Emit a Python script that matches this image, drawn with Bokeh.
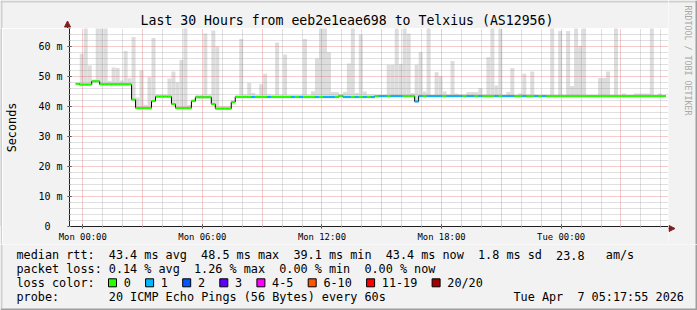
import math
import numpy as np
from bokeh.plotting import figure
from bokeh.layouts import column, row
from bokeh.models import FixedTicker, ColumnDataSource, Range1d
from bokeh.core.properties import value
from bokeh.embed import file_html
from bokeh.resources import INLINE

# ---------------- data ----------------
# time axis: hours relative to Mon 00:00, one consolidated RRD step = 12 min
step_h = 0.2
t_first = -0.35

median_ms = [
    47.6, 47.3, 47.3, 47.3, 48.4, 48.4, 47.4, 47.4, 47.4, 47.4,
    47.4, 47.4, 47.4, 47.4, 42.3, 39.5, 39.5, 39.5, 39.5, 41.8,
    43.3, 43.3, 43.3, 43.3, 40.8, 39.5, 39.5, 39.5, 39.5, 41.8,
    43.1, 43.1, 43.1, 43.1, 40.8, 39.3, 39.3, 39.3, 39.3, 41.5,
    43.2, 43.2, 43.2, 43.2, 43.2, 43.2, 43.2, 43.2, 43.2, 43.2,
    43.2, 43.2, 43.2, 43.2, 43.2, 43.2, 43.2, 43.2, 43.2, 43.2,
    43.2, 43.2, 43.2, 43.2, 43.2, 43.2, 43.6, 43.2, 43.2, 43.2,
    43.2, 43.2, 43.2, 43.2, 43.2, 43.5, 43.5, 43.5, 43.5, 43.5,
    43.5, 43.5, 43.5, 43.5, 43.5, 41.7, 43.5, 43.5, 43.5, 43.5,
    43.5, 43.5, 43.5, 43.5, 43.5, 43.5, 43.5, 43.5, 43.5, 43.5,
    43.5, 43.5, 43.5, 43.5, 43.5, 43.5, 43.5, 43.5, 43.5, 43.5,
    43.5, 43.5, 43.5, 43.5, 43.5, 43.5, 43.5, 43.5, 43.5, 43.5,
    43.5, 43.5, 43.5, 43.5, 43.5, 43.5, 43.5, 43.5, 43.5, 43.5,
    43.5, 43.5, 43.5, 43.5, 43.5, 43.5, 43.5, 43.5, 43.5, 43.5,
    43.5, 43.5, 43.5, 43.5, 43.5, 43.5, 43.5, 43.5,
]

smoke_top_ms = [
    47.8, 57.6, 67.0, 53.7, 49.0, 67.0, 67.0, 67.0, 48.5, 53.0,
    52.8, 48.7, 58.5, 49.4, 63.2, 43.0, 52.0, 40.5, 49.8, 62.8,
    44.0, 44.0, 44.0, 49.3, 51.7, 48.1, 55.5, 67.0, 40.5, 42.5,
    43.8, 43.8, 64.3, 44.0, 65.3, 60.0, 40.0, 40.0, 40.0, 42.0,
    43.8, 62.5, 44.0, 47.8, 44.5, 43.8, 47.4, 50.9, 44.0, 43.8,
    61.3, 43.8, 57.3, 43.8, 43.8, 43.8, 43.8, 62.5, 43.8, 45.1,
    56.0, 67.0, 67.0, 58.1, 44.8, 44.8, 44.0, 44.8, 54.3, 67.0,
    44.5, 64.0, 45.0, 44.0, 44.0, 43.8, 43.8, 43.8, 53.9, 53.9,
    67.0, 54.2, 67.0, 64.3, 44.5, 53.9, 58.2, 45.0, 67.0, 43.8,
    51.4, 50.2, 45.0, 44.0, 55.2, 44.3, 44.0, 44.0, 44.8, 44.8,
    44.8, 46.2, 44.0, 56.4, 67.0, 47.0, 67.0, 43.8, 44.8, 52.8,
    43.8, 44.3, 50.9, 44.0, 51.7, 43.8, 43.8, 43.8, 43.8, 67.0,
    43.8, 65.2, 43.8, 65.2, 46.8, 67.0, 60.2, 67.0, 43.8, 43.8,
    43.8, 49.5, 49.5, 51.7, 43.8, 67.0, 43.8, 44.3, 43.8, 43.8,
    44.3, 44.3, 44.3, 44.3, 67.0, 43.8, 44.3, 43.8,
]

loss_pings = [
    0, 0, 0, 0, 0, 0, 0, 0, 0, 0,
    0, 0, 0, 0, 0, 0, 0, 0, 0, 0,
    0, 0, 0, 0, 0, 0, 0, 0, 0, 0,
    0, 0, 0, 0, 0, 0, 0, 0, 0, 0,
    0, 0, 0, 0, 1, 0, 0, 0, 1, 0,
    0, 0, 0, 0, 1, 0, 1, 0, 0, 0,
    1, 0, 1, 1, 1, 0, 0, 1, 1, 0,
    1, 0, 1, 0, 1, 0, 1, 1, 0, 1,
    1, 1, 0, 0, 0, 1, 1, 0, 1, 1,
    1, 1, 0, 1, 1, 1, 1, 0, 1, 1,
    0, 1, 0, 0, 0, 1, 0, 1, 1, 1,
    0, 0, 1, 0, 0, 1, 0, 1, 0, 0,
    0, 0, 0, 0, 0, 0, 0, 0, 0, 0,
    0, 0, 0, 0, 0, 0, 0, 0, 0, 0,
    0, 0, 0, 0, 0, 0, 0, 0,
]

x_tick_hours = [0, 6, 12, 18, 24]
x_tick_labels = ["Mon 00:00", "Mon 06:00", "Mon 12:00", "Mon 18:00", "Tue 00:00"]
y_tick_ms = [0, 10, 20, 30, 40, 50, 60]
y_tick_labels = ["0", "10 m", "20 m", "30 m", "40 m", "50 m", "60 m"]

loss_labels = ["0", "1", "2", "3", "4-5", "6-10", "11-19", "20/20"]
loss_colors = ["#26ff00", "#00b8ff", "#0059ff", "#5e00ff", "#ff00ff",
               "#ff5500", "#ff0000", "#a00000"]

title_text = "Last 30 Hours from eeb2e1eae698 to Telxius (AS12956)"
y_label = "Seconds"
watermark = "RRDTOOL / TOBI OETIKER"
rtt_head = "median rtt:"
rtt_stats = ["43.4 ms avg", "48.5 ms max", "39.1 ms min", "43.4 ms now",
             "1.8 ms sd", "23.8", "am/s"]
loss_head = "packet loss:"
loss_stats = ["0.14 % avg", "1.26 % max", "0.00 % min", "0.00 % now"]
color_head = "loss color:"
probe_head = "probe:"
probe_text = "20 ICMP Echo Pings (56 Bytes) every 60s"
stamp_parts = ["Tue Apr", "7 05:17:55 2026"]

# ---------------- layout constants (page pixels) ----------------
W, H = 697, 310
FL, FR, FT, FB = 67, 668, 28, 228     # plot frame edges
XB = 16                               # height of x-axis label strip
MID = FB + XB                         # top of legend strip
X0, X1 = -0.665, 29.385
Y0, Y1 = 0.0, 66.0
MONO = "DejaVu Sans Mono"
BG = "#F2F2F2"
SHADE_A = "#CFCFCF"
SHADE_B = "#9E9E9E"
ARROW = "#801F1F"
AXIS = "#1F1F1F"
CW = 7.1          # monospace advance of the legend font
LFS = "11.8px"


def panel_fig(w, h, xr, yr):
    f = figure(width=w, height=h, x_range=Range1d(*xr), y_range=Range1d(*yr),
               output_backend="svg", toolbar_location=None,
               x_axis_type=None, y_axis_type=None,
               min_border=0, min_border_left=0, min_border_right=0,
               min_border_top=0, min_border_bottom=0)
    f.outline_line_color = None
    f.background_fill_color = BG
    f.border_fill_color = BG
    return f


def strip(f, l, r, t, b, c):
    f.quad(left=[l], right=[r], top=[t], bottom=[b], fill_color=c, line_color=None)


def txt(f, xs, ys, ss, size=LFS, align="left", color="black", angle=0.0):
    f.text(x=xs, y=ys, text=ss, text_font=value(MONO), text_font_size=value(size),
           text_align=align, text_baseline="middle", text_color=color, angle=angle)


# ---------------- main plot ----------------
p = figure(width=FR - 2, height=FB - FT + XB, x_range=(X0, X1), y_range=(Y0, Y1),
           output_backend="svg", toolbar_location=None,
           min_border_left=FL - 2, min_border_right=0,
           min_border_top=0, min_border_bottom=XB)
p.background_fill_color = "white"
p.border_fill_color = BG
p.outline_line_color = None

p.xaxis.ticker = FixedTicker(ticks=x_tick_hours, minor_ticks=list(range(0, 30)))
p.xaxis.major_label_overrides = {h: l for h, l in zip(x_tick_hours, x_tick_labels)}
p.yaxis.ticker = FixedTicker(ticks=y_tick_ms, minor_ticks=list(range(0, 67, 2)))
p.yaxis.major_label_overrides = {v: (l if v != 0 else l + "\u00a0\u00a0")
                                 for v, l in zip(y_tick_ms, y_tick_labels)}
for ax in (p.xaxis, p.yaxis):
    ax.axis_line_color = AXIS
    ax.major_tick_line_color = AXIS
    ax.minor_tick_line_color = "#8F8F8F"
    ax.major_tick_out = 2
    ax.major_tick_in = 2
    ax.minor_tick_out = 1
    ax.minor_tick_in = 1
    ax.major_label_text_font = MONO
    ax.major_label_text_color = "black"
p.xaxis.major_label_text_font_size = "8.9px"
p.xaxis.major_label_standoff = 3
p.yaxis.major_label_text_font_size = "10px"
p.yaxis.major_label_standoff = 5
p.yaxis.axis_label = y_label
p.yaxis.axis_label_text_font = MONO
p.yaxis.axis_label_text_font_size = LFS
p.yaxis.axis_label_text_font_style = "normal"
p.yaxis.axis_label_text_color = "black"
p.yaxis.axis_label_standoff = 16

p.xgrid.ticker = FixedTicker(ticks=list(range(0, 30, 3)),
                             minor_ticks=[h for h in range(0, 30) if h % 3])
p.ygrid.ticker = FixedTicker(ticks=list(range(10, 61, 10)),
                             minor_ticks=[v for v in range(2, 66, 2) if v % 10])
for g in (p.xgrid, p.ygrid):
    g.grid_line_color = "#DE5050"
    g.grid_line_alpha = 0.6
    g.grid_line_dash = "1 1"
    g.minor_grid_line_color = "#8F8F8F"
    g.minor_grid_line_alpha = 0.55
    g.minor_grid_line_dash = "1 1"

n = len(median_ms)
t = t_first + step_h * np.arange(n)
med = np.array(median_ms)
top = np.array(smoke_top_ms)
src = ColumnDataSource(dict(left=t, right=t + step_h, bottom=med - 0.5, top=top,
                            med=med,
                            color=[loss_colors[min(l, 7)] for l in loss_pings]))
p.quad(left="left", right="right", bottom="bottom", top="top", source=src,
       fill_color="#DDDDDD", line_color=None, level="image")
xs = np.append(t, t[-1] + step_h)
ys = np.append(med, med[-1])
p.step(xs, ys, mode="after", line_color="#000000", line_width=1)
p.segment(x0="left", x1="right", y0="med", y1="med", source=src,
          line_color="color", line_width=2)

# ---------------- top strip: title + y arrow ----------------
T = panel_fig(FR, FT, (0, FR), (FT, 0))
strip(T, 0, FR, 0, 2, SHADE_A)
strip(T, 0, 2, 0, FT, SHADE_A)
txt(T, [W / 2 - 2], [19.5], [title_text], size="13.2px", align="center")
T.segment(x0=[FL], y0=[FT], x1=[FL], y1=[FT - 3], line_color=AXIS, line_width=1)
T.patch(x=[FL - 3, FL, FL + 3], y=[FT - 1.5, FT - 7.5, FT - 1.5],
        fill_color=ARROW, line_color=ARROW)

# ---------------- left shade strip ----------------
L = panel_fig(2, FB - FT + XB, (0, 2), (MID, FT))
L.background_fill_color = SHADE_A
L.border_fill_color = SHADE_A
strip(L, 0, 2, FT, MID, SHADE_A)

# ---------------- right strip: watermark + x arrow ----------------
R = panel_fig(W - FR, MID, (FR, W), (MID, 0))
strip(R, FR, W, 0, 2, SHADE_A)
strip(R, W - 2, W, 0, MID, SHADE_B)
txt(R, [687], [60], [watermark], size="8.3px", align="center", color="#A8A8A8",
    angle=-math.pi / 2)
R.segment(x0=[FR], y0=[FB], x1=[FR + 2], y1=[FB], line_color=AXIS, line_width=1)
R.patch(x=[FR + 0.5, FR + 6.5, FR + 0.5], y=[FB - 3, FB, FB + 3],
        fill_color=ARROW, line_color=ARROW)

# ---------------- bottom legend strip ----------------
B = panel_fig(W, H - MID, (0, W), (H, MID))
strip(B, 0, 2, MID, H - 2, SHADE_A)
strip(B, W - 2, W, MID, H, SHADE_B)
strip(B, 0, W, H - 2, H, SHADE_B)

def col(c):
    return 16 + c * CW

LY = [254.7, 268.3, 282.3, 296.0]
txt(B, [col(0)] + [col(c) for c in (13, 26, 39, 52, 65, 76, 83)], [LY[0]] * 8,
    [rtt_head] + rtt_stats)
txt(B, [col(0)] + [col(c) for c in (13, 25, 37, 49)], [LY[1]] * 5,
    [loss_head] + loss_stats)
txt(B, [col(0)], [LY[2]], [color_head])
bx = 108.0
box_l, lab_x = [], []
for lab in loss_labels:
    box_l.append(bx)
    lab_x.append(bx + 15.2)
    bx += 15.2 + len(lab) * CW + 14.8
box_l = np.array(box_l)
B.quad(left=box_l, right=box_l + 8, top=[LY[2] - 4] * 8, bottom=[LY[2] + 4] * 8,
       fill_color=loss_colors, line_color="black", line_width=1)
txt(B, lab_x, [LY[2]] * 8, loss_labels)
txt(B, [col(0), col(13), col(70), col(79)], [LY[3]] * 4,
    [probe_head, probe_text] + stamp_parts)

layout = column(row(column(T, row(L, p)), R), B)
open("out.html", "w").write(file_html(layout, INLINE))
